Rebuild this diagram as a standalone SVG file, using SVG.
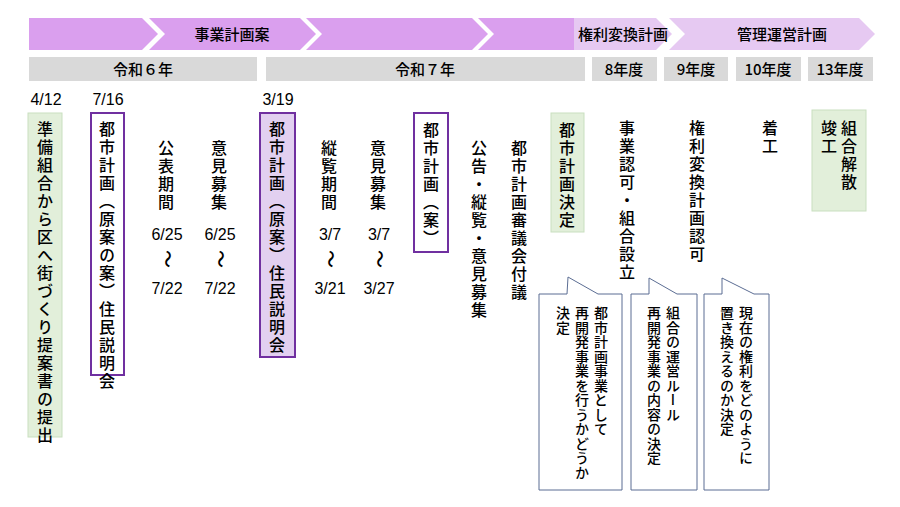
<svg xmlns="http://www.w3.org/2000/svg" width="900" height="507" viewBox="0 0 900 507">
<style>
text{font-family:"Noto Sans CJK JP","Noto Sans",sans-serif;fill:#000;font-weight:500}
.v{writing-mode:vertical-rl;font-size:16px;letter-spacing:2px}
.s{writing-mode:vertical-rl;font-size:14px;letter-spacing:0.5px}
.h{font-size:15px;text-anchor:middle}
.d{font-family:"Liberation Sans Narrow","Liberation Sans",sans-serif;font-size:16px;text-anchor:middle}
.w{font-size:18px;text-anchor:middle}
.c1{fill:#da9fee}.c2{fill:#e6c9f2}
.yr{fill:#d9d9d9}
.g{fill:#e2efda;stroke:#c9dfc0;stroke-width:1}
.p{fill:#fff;stroke:#7030a0;stroke-width:2}
.pl{fill:#e2d0f0;stroke:#7030a0;stroke-width:2}
.cb{fill:#fff;stroke:#5b6d93;stroke-width:1}
</style>
<rect width="900" height="507" fill="#fff"/>
<g id="phases">
<polygon class="c1" points="29,18 142,18 158,34 142,50 29,50"/>
<polygon class="c1" points="149,18 300,18 316,34 300,50 149,50 165,34"/>
<polygon class="c1" points="306,18 472,18 488,34 472,50 306,50 322,34"/>
<polygon class="c1" points="478,18 574,18 574,50 478,50 494,34"/>
<polygon class="c2" points="574,18 656,18 672,34 656,50 574,50"/>
<polygon class="c2" points="669,18 859,18 875,34 859,50 669,50 685,34"/>
<text class="h" x="232" y="40">事業計画案</text>
<text class="h" x="623" y="40">権利変換計画</text>
<text class="h" x="782" y="40">管理運営計画</text>
</g>
<g id="years">
<rect class="yr" x="29" y="57" width="228" height="24"/>
<rect class="yr" x="266" y="57" width="319" height="24"/>
<rect class="yr" x="592" y="57" width="65" height="24"/>
<rect class="yr" x="664" y="57" width="64" height="24"/>
<rect class="yr" x="736" y="57" width="65" height="24"/>
<rect class="yr" x="808" y="57" width="65" height="24"/>
<text class="h" x="143" y="75">令和６年</text>
<text class="h" x="425" y="75">令和７年</text>
<text class="h" x="624" y="75">8年度</text>
<text class="h" x="696" y="75">9年度</text>
<text class="h" x="768" y="75">10年度</text>
<text class="h" x="840" y="75">13年度</text>
</g>
<g id="dates">
<text class="d" x="46" y="105">4/12</text>
<text class="d" x="108" y="105">7/16</text>
<text class="d" x="278" y="105">3/19</text>
</g>
<g id="n1"><rect class="g" x="28" y="113" width="34" height="324"/><text class="v" x="45" y="121">準備組合から区へ街づくり提案書の提出</text></g>
<g id="n2"><rect class="p" x="91" y="113" width="33" height="262"/><text class="v" x="107" y="121">都市計画（原案の案）住民説明会</text></g>
<g id="n3"><text class="v" x="166" y="140">公表期間</text>
<text class="d" x="167" y="240">6/25</text><text class="w" x="167" y="265" transform="rotate(90 167 259)">〜</text><text class="d" x="167" y="294">7/22</text></g>
<g id="n4"><text class="v" x="219" y="140">意見募集</text>
<text class="d" x="220" y="240">6/25</text><text class="w" x="220" y="265" transform="rotate(90 220 259)">〜</text><text class="d" x="220" y="294">7/22</text></g>
<g id="n5"><rect class="pl" x="260" y="113" width="35" height="244"/><text class="v" x="277" y="121">都市計画（原案）住民説明会</text></g>
<g id="n6"><text class="v" x="329" y="140">縦覧期間</text>
<text class="d" x="330" y="240">3/7</text><text class="w" x="330" y="265" transform="rotate(90 330 259)">〜</text><text class="d" x="330" y="294">3/21</text></g>
<g id="n7"><text class="v" x="378" y="140">意見募集</text>
<text class="d" x="379" y="240">3/7</text><text class="w" x="379" y="265" transform="rotate(90 379 259)">〜</text><text class="d" x="379" y="294">3/27</text></g>
<g id="n8"><rect class="p" x="414" y="113" width="34" height="139"/><text class="v" x="431" y="122">都市計画（案）</text></g>
<g id="n9"><text class="v" x="479" y="140">公告・縦覧・意見募集</text></g>
<g id="n10"><text class="v" x="519" y="140">都市計画審議会付議</text></g>
<g id="n11"><rect class="g" x="551" y="113" width="33" height="119"/><text class="v" x="567" y="122">都市計画決定</text></g>
<g id="n12"><text class="v" x="627" y="120">事業認可・組合設立</text></g>
<g id="n13"><text class="v" x="697" y="120">権利変換計画認可</text></g>
<g id="n14"><text class="v" x="770" y="120">着工</text></g>
<g id="n15"><rect class="g" x="812" y="110" width="54" height="101"/><text class="v" x="849" y="120">組合解散</text><text class="v" x="829" y="120">竣工</text></g>
<g id="callouts">
<polygon class="cb" points="539,294 567,294 568,277 598,294 622,294 622,490 539,490"/>
<text class="s" x="601" y="306">都市計画事業として</text>
<text class="s" x="582" y="306">再開発事業を行うかどうか</text>
<text class="s" x="563" y="306">決定</text>
<polygon class="cb" points="631,294 649,294 649,278 677,294 697,294 697,490 631,490"/>
<text class="s" x="673" y="306">組合の運営ルール</text>
<text class="s" x="654" y="306">再開発事業の内容の決定</text>
<polygon class="cb" points="704,294 722,294 722,278 754,294 769,294 769,490 704,490"/>
<text class="s" x="746" y="306">現在の権利をどのように</text>
<text class="s" x="727" y="306">置き換えるのか決定</text>
</g>
</svg>
